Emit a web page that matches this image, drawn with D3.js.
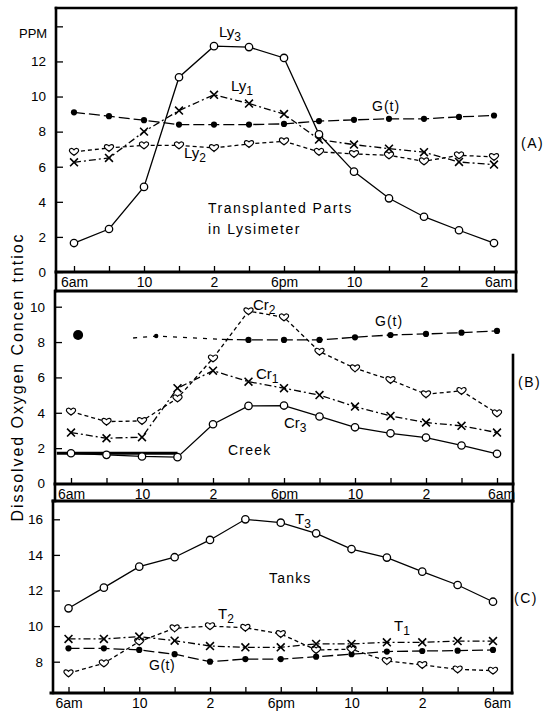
<!DOCTYPE html>
<html><head><meta charset="utf-8">
<script src="https://cdn.jsdelivr.net/npm/d3@7/dist/d3.min.js"></script>
<style>
body{margin:0;background:#fff;}
text{font-family:"Liberation Sans",Arial,sans-serif;fill:#000;}
</style></head>
<body><svg id="c" width="545" height="715"></svg>
<script>
// ---------- data ----------
const hours = [6,8,10,12,14,16,18,20,22,24,26,28,30];
const xTickLabels = ["6am","","10","","2","","6pm","","10","","2","","6am"];
const yTicksA = [0,2,4,6,8,10,12,14];
const yTickLabelsA = ["0","2","4","6","8","10","12",""];
const yTicksB = [0,2,4,6,8,10];
const yTicksC = [8,10,12,14,16];

// Panel A : Transplanted Parts in Lysimeter
const ly1A = [6.25,6.5,8.0,9.2,10.1,9.6,9.0,7.55,7.26,7.03,6.83,6.27,6.12];
const ly2A = [6.85,7.07,7.22,7.22,7.07,7.3,7.45,6.85,6.73,6.65,6.31,6.65,6.56];
const ly3A = [1.65,2.45,4.85,11.1,12.87,12.82,12.2,7.85,5.72,4.2,3.15,2.38,1.65];
const gA   = [9.1,8.88,8.65,8.4,8.4,8.4,8.44,8.6,8.67,8.73,8.73,8.84,8.92];

// Panel B : Creek
const cr1B = [2.88,2.56,2.62,5.39,6.38,5.76,5.39,5.0,4.35,3.82,3.45,3.26,2.88];
const cr2B = [4.07,3.5,3.54,4.82,7.08,9.75,9.4,7.46,6.52,5.86,5.05,5.24,3.97];
const cr3B = [1.71,1.62,1.53,1.49,3.35,4.39,4.41,3.79,3.18,2.84,2.6,2.15,1.68];
const creekBaseHours = [5.2,12];
const creekBase = [1.71,1.71];
const gBHours = [14.5,16,18,20,22,24,26,28,30];
const gB      = [8.15,8.12,8.12,8.12,8.27,8.4,8.46,8.53,8.63];
const gBEarlyHours = [9.5,10.8,14.5];
const gBEarly      = [8.23,8.34,8.15];
const bigDotHour = 6.4, bigDotValue = 8.4;

// Panel C : Tanks
const t1C = [9.28,9.28,9.41,9.18,8.88,8.81,8.81,9.0,9.0,9.09,9.09,9.16,9.16];
const t2C = [7.35,7.91,9.13,9.88,10.0,9.91,9.56,8.66,8.7,8.04,7.82,7.57,7.5];
const t3C = [11.0,12.16,13.34,13.87,14.84,16.0,15.81,15.21,14.33,13.85,13.06,12.31,11.37];
const gC  = [8.75,8.75,8.66,8.42,8.0,8.15,8.15,8.28,8.42,8.57,8.6,8.62,8.66];

// ---------- drawing ----------
const svg = d3.select("#c");
const zip = (xs, ys) => xs.map((h,i)=>({h, v:ys[i]}));

const heartPath = "M0,3.6 C-1,2.6 -4.6,0.6 -4.6,-1.4 C-4.6,-3.6 -1.9,-4.1 0,-2 C1.9,-4.1 4.6,-3.6 4.6,-1.4 C4.6,0.6 1,2.6 0,3.6 Z";
const xPath = d3.symbol(d3.symbolX, 42)();

const DASH = {solid:null, dashdot:"7,3,2,3", dashed:"4,3", long:"11,4", dotted:"4,6"};

function frameLine(x1,y1,x2,y2,w){
  svg.append("line").attr("x1",x1).attr("y1",y1).attr("x2",x2).attr("y2",y2)
    .attr("stroke","#000").attr("stroke-width",w||2.6).attr("stroke-linecap","square");
}

function series(g, x, y, data, dash, marker, skipFirstMarker, width){
  const line = d3.line().x(d=>x(d.h)).y(d=>y(d.v));
  g.append("path").datum(data).attr("d",line).attr("fill","none")
    .attr("stroke","#000").attr("stroke-width",width||1.3)
    .attr("stroke-dasharray",DASH[dash]);
  const pts = skipFirstMarker ? data.slice(1) : data;
  const m = g.append("g");
  pts.forEach(d=>{
    const cx=x(d.h), cy=y(d.v);
    if(marker==="circle") m.append("circle").attr("cx",cx).attr("cy",cy).attr("r",3.7)
        .attr("fill","#fff").attr("stroke","#000").attr("stroke-width",1.3);
    else if(marker==="dot") m.append("circle").attr("cx",cx).attr("cy",cy).attr("r",3.1).attr("fill","#000");
    else if(marker==="x") m.append("path").attr("d",xPath).attr("transform",`translate(${cx},${cy})`)
        .attr("fill","none").attr("stroke","#000").attr("stroke-width",1.6);
    else if(marker==="heart") m.append("path").attr("d",heartPath).attr("transform",`translate(${cx},${cy})`)
        .attr("fill","#fff").attr("stroke","#000").attr("stroke-width",1.2);
  });
}

function axes(x, y, axisX, axisY, yVals, yLabels){
  const ga = svg.append("g").attr("transform",`translate(${axisX},0)`)
    .call(d3.axisLeft(y).tickValues(yVals).tickSize(-7).tickPadding(10)
      .tickFormat((d,i)=> yLabels ? yLabels[i] : String(d)));
  ga.select(".domain").remove();
  ga.selectAll(".tick line").attr("stroke","#000").attr("stroke-width",1.3);
  ga.selectAll("text").attr("font-size",13.5).attr("font-family","Liberation Sans, Arial, sans-serif");
  const gb = svg.append("g").attr("transform",`translate(0,${axisY})`)
    .call(d3.axisBottom(x).tickValues(hours).tickSize(-6).tickPadding(5)
      .tickFormat((d,i)=>xTickLabels[i]));
  gb.select(".domain").remove();
  gb.selectAll(".tick line").attr("stroke","#000").attr("stroke-width",1.3);
  gb.selectAll("text").attr("font-size",14).attr("font-family","Liberation Sans, Arial, sans-serif");
  gb.selectAll(".tick").filter((d,i)=>i===hours.length-1).select("text").attr("dx",4);
}

function label(x, y, main, sub, size, spacing){
  const t = svg.append("text").attr("x",x).attr("y",y).attr("font-size",size||14)
    .attr("letter-spacing",spacing||0);
  t.append("tspan").text(main);
  if(sub) t.append("tspan").attr("dy",4).attr("font-size",(size||14)*0.8).text(sub);
  return t;
}

// ===== Panel A =====
const xA = d3.scaleLinear([6,30],[74,494]);
const yA = d3.scaleLinear([0,15],[272,8.8]);
const gAg = svg.append("g");
axes(xA, yA, 56, 272, yTicksA, yTickLabelsA);
series(gAg, xA, yA, zip(hours,gA), "long", "dot");
series(gAg, xA, yA, zip(hours,ly2A), "dashed", "heart");
series(gAg, xA, yA, zip(hours,ly1A), "dashdot", "x");
series(gAg, xA, yA, zip(hours,ly3A), "solid", "circle");
frameLine(56,8,56,291); frameLine(56,8,516,8); frameLine(516,8,516,291);
frameLine(56,272,516,272,3); frameLine(56,291,516,291,3);

label(19,38,"PPM",null,13);
label(219,37,"Ly","3",15);
label(231,91,"Ly","1",15);
label(372,111,"G(t)",null,14,1);
label(184,158,"Ly","2",15);
label(208,213,"Transplanted  Parts",null,14,1.5);
label(208,234,"in Lysimeter",null,14,1.5);
label(521,148,"(A)",null,14,1.5);

// ===== Panel B =====
const xB = d3.scaleLinear([6,30],[71,497]);
const yB = d3.scaleLinear([0,10],[483.5,306.7]);
const gBg = svg.append("g");
axes(xB, yB, 55, 484, yTicksB, null);
series(gBg, xB, yB, zip(creekBaseHours,creekBase), "solid", null, false, 3);
series(gBg, xB, yB, zip(gBEarlyHours,gBEarly), "dotted", null);
gBg.append("circle").attr("cx",xB(gBEarlyHours[1])).attr("cy",yB(gBEarly[1])).attr("r",2.2).attr("fill","#000");
series(gBg, xB, yB, zip(gBHours,gB), "long", "dot", true);
series(gBg, xB, yB, zip(hours,cr2B), "dashed", "heart");
series(gBg, xB, yB, zip(hours,cr1B), "dashdot", "x");
series(gBg, xB, yB, zip(hours,cr3B), "solid", "circle");
gBg.append("circle").attr("cx",xB(bigDotHour)).attr("cy",yB(bigDotValue)).attr("r",5).attr("fill","#000");
frameLine(55,291,55,501); frameLine(513,355,513,501);
frameLine(55,484,513,484,3); frameLine(53,501,513,501,3);

label(253,310,"Cr","2",15);
label(375,326,"G(t)",null,14,1);
label(256,379,"Cr","1",15);
label(284,428,"Cr","3",15);
label(228,455,"Creek",null,14,1.2);
label(518,387,"(B)",null,14,1.5);

// ===== Panel C =====
const xC = d3.scaleLinear([6,30],[68.5,493]);
const yC = d3.scaleLinear([8,16],[661.7,519.3]);
const gCg = svg.append("g");
axes(xC, yC, 53, 693, yTicksC, null);
series(gCg, xC, yC, zip(hours,gC), "long", "dot");
series(gCg, xC, yC, zip(hours,t2C), "dashed", "heart");
series(gCg, xC, yC, zip(hours,t1C), "dashdot", "x");
series(gCg, xC, yC, zip(hours,t3C), "solid", "circle");
frameLine(53,501,53,693); frameLine(512,501,512,693);
frameLine(51,693,512,693,3);

label(295,524,"T","3",15);
label(269,583,"Tanks",null,14,1.2);
label(218,619,"T","2",15);
label(394,631,"T","1",15);
label(149,670,"G(t)",null,14,0.5);
label(514,603,"(C)",null,14,1.5);

// y-axis title
svg.append("text").attr("transform","translate(23,378) rotate(-90)")
  .attr("text-anchor","middle").attr("font-size",16)
  .attr("textLength",287).attr("lengthAdjust","spacing")
  .text("Dissolved Oxygen Concen tntioc");
</script></body></html>
